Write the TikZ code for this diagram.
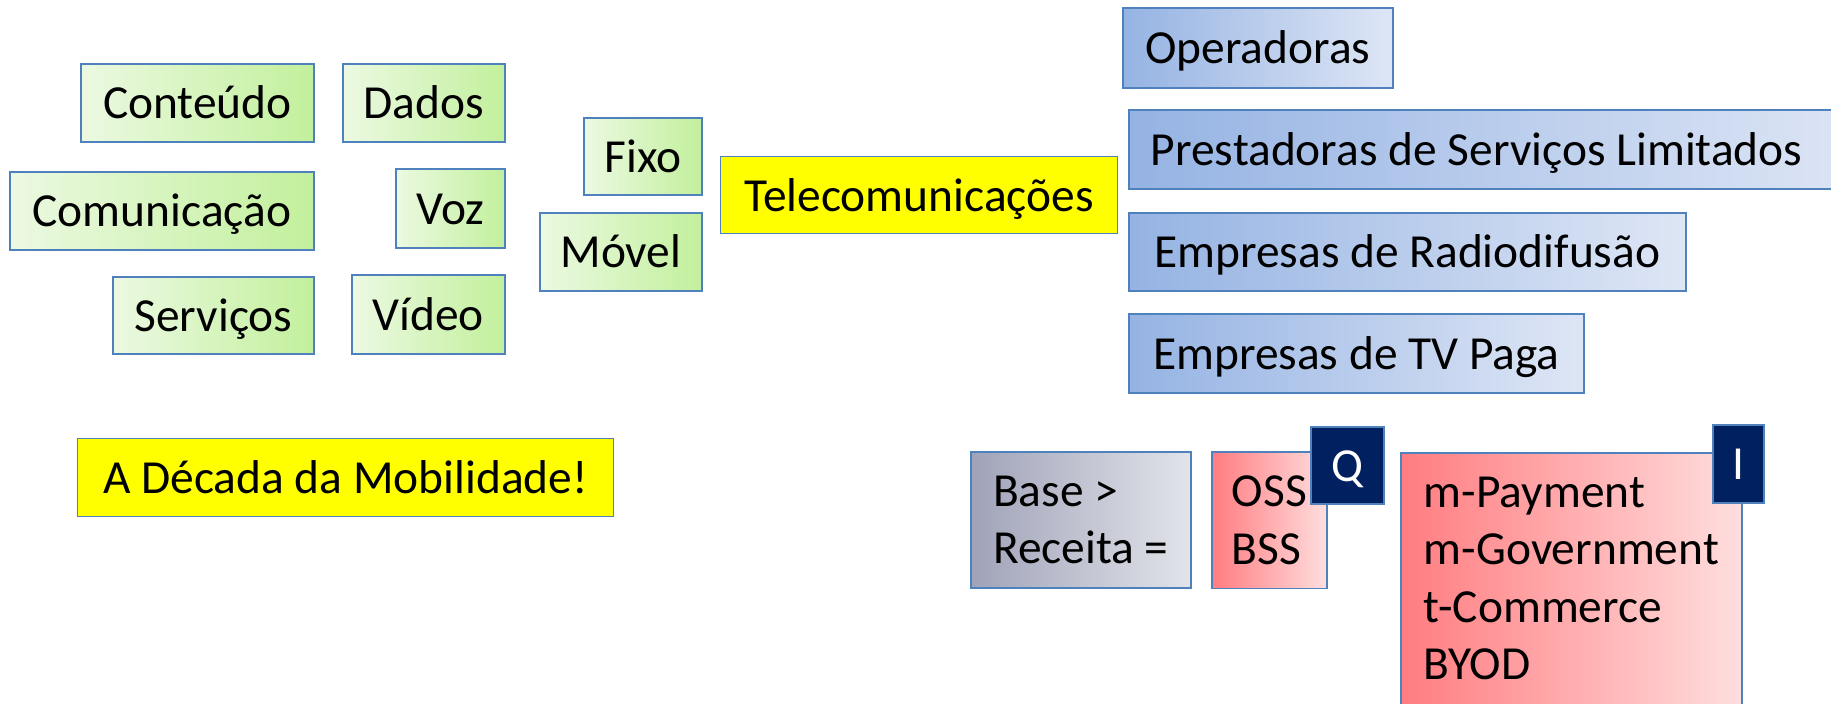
\documentclass[tikz,border=0pt]{standalone}
\usepackage{fontspec}
\setmainfont{Carlito}
\definecolor{bordo}{RGB}{79,129,189}
\definecolor{verdeA}{RGB}{236,249,226}
\definecolor{verdeB}{RGB}{194,240,156}
\definecolor{azulA}{RGB}{149,179,227}
\definecolor{azulB}{RGB}{222,230,245}
\definecolor{cinzaA}{RGB}{160,163,184}
\definecolor{cinzaB}{RGB}{226,228,234}
\definecolor{rosaA}{RGB}{255,124,128}
\definecolor{rosaB}{RGB}{255,222,222}
\definecolor{marinho}{RGB}{0,32,96}
\definecolor{amarelo}{RGB}{255,255,0}
\begin{document}
\begin{tikzpicture}[x=0.02cm,y=-0.02cm,
  caixa/.style={draw=bordo,line width=1pt,anchor=north west,inner sep=0pt,
    text height=0.72cm,text depth=0.08cm,font=\fontsize{27}{32.7}\selectfont},
  verde/.style={caixa,left color=verdeA,right color=verdeB},
  azul/.style={caixa,left color=azulA,right color=azulB},
  realce/.style={caixa,fill=amarelo,line width=0.6pt},
  marca/.style={caixa,fill=marinho,text=white},
  lista/.style={draw=bordo,line width=1pt,anchor=north west,align=left,
    inner xsep=0pt,inner ysep=0.48cm,font=\fontsize{27}{32.7}\selectfont}]
\useasboundingbox (0,0) rectangle (1831,703);
\clip (0,0) rectangle (1831,703);

% servicos
\node[verde,minimum width=4.66cm,minimum height=1.56cm] (conteudo) at (80,63) {Conteúdo};
\node[verde,minimum width=3.24cm,minimum height=1.56cm] (dados) at (342,63) {Dados};
\node[verde,minimum width=6.08cm,minimum height=1.56cm] (comunicacao) at (9,171) {Comunicação};
\node[verde,minimum width=2.18cm,minimum height=1.58cm] (voz) at (395,168) {Voz};
\node[verde,minimum width=4.02cm,minimum height=1.54cm] (servicos) at (112,276) {Serviços};
\node[verde,minimum width=3.06cm,minimum height=1.58cm] (video) at (351,274) {Vídeo};
\node[verde,minimum width=2.36cm,minimum height=1.54cm] (fixo) at (583,117) {Fixo};
\node[verde,minimum width=3.24cm,minimum height=1.56cm] (movel) at (539,212) {Móvel};

\node[realce,minimum width=7.94cm,minimum height=1.54cm] (telecom) at (720,156) {Telecomunicações};
\node[realce,minimum width=10.72cm,minimum height=1.56cm] (decada) at (77,438) {A Década da Mobilidade!};

% empresas
\node[azul,minimum width=5.40cm,minimum height=1.60cm] (operadoras) at (1122,7) {Operadoras};
\node[azul,minimum height=1.58cm,inner xsep=0.44cm,text width=13.92cm,align=flush left] (prestadoras) at (1128,109) {Prestadoras de Serviços Limitados};
\node[azul,minimum width=11.14cm,minimum height=1.56cm] (radiodifusao) at (1128,212) {Empresas de Radiodifusão};
\node[azul,minimum width=9.10cm,minimum height=1.58cm] (tvpaga) at (1128,313) {Empresas de TV Paga};

% receita
\node[lista,left color=cinzaA,right color=cinzaB,minimum width=4.40cm] (base) at (970,451) {Base >\\Receita =};
\node[lista,left color=rosaA,right color=rosaB,minimum width=2.30cm] (oss) at (1211,451) {OSS\\BSS};
\node[marca,minimum width=1.46cm,minimum height=1.54cm] (q) at (1310,426) {Q};
\node[lista,left color=rosaA,right color=rosaB,minimum width=6.82cm] (apps) at (1400,452)
  {m-Payment\\m-Government\\t-Commerce\\BYOD\rule[-0.8cm]{0pt}{0pt}};
\node[marca,minimum width=1.02cm,minimum height=1.56cm] (i) at (1712,424) {I};
\end{tikzpicture}
\end{document}
